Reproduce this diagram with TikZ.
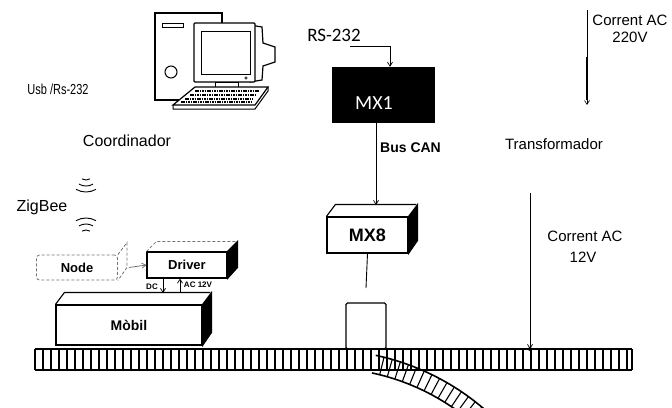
\documentclass[tikz,border=0pt]{standalone}
\usepackage{fontspec}
\setmainfont{Liberation Sans}
\newfontfamily\carlito{Carlito}
\usetikzlibrary{arrows.meta,shapes.misc}

\begin{document}
\begin{tikzpicture}[x=1pt,y=-1pt,
  box/.style={draw,line width=1.1pt,fill=white,inner sep=0pt,font=\bfseries\fontsize{13}{15}\selectfont},
  lbl/.style={inner sep=0pt,font=\fontsize{15}{18}\selectfont},
  wire/.style={line width=0.7pt,-{Straight Barb[length=4pt,width=5pt]}},
  rail/.style={line width=1.6pt},
  tie/.style={line width=1.1pt}]
\useasboundingbox (0,0) rectangle (672,407);

% computer
\draw[line width=1.2pt,fill=white] (155,13) rectangle (222,100);
\draw[line width=1pt] (162,23) rectangle (183,27);
\draw[line width=1pt] (171,72) circle (6);
\draw[line width=1.2pt,fill=white] (250,25) -- (262,27) -- (263,43) -- (275,47) -- (275,62)
  -- (263,66) -- (262,80) -- (250,82) -- cycle;
\draw[line width=1.4pt,fill=white,rounded corners=1pt] (194,23) rectangle (255,82);
\draw[line width=0.8pt] (201,31) rectangle (250,74);
\draw[line width=0.6pt] (246,78) circle (1.2);
\draw[line width=1pt,fill=white] (215,82) rectangle (238,87);
\draw[line width=1.2pt,fill=white] (195,87) -- (268,87) -- (255,105) -- (173,105) -- cycle;
\draw[line width=1pt] (173,105) -- (173,109) -- (255,109) -- (268,91) -- (268,87);
\foreach \y/\a/\b in {91/195/259,95/190/256,99/185/253,102/181/251}
  \draw[line width=2.4pt,dash pattern=on 1.6pt off 0.8pt] (\a,\y) -- (\b,\y);

\node[lbl,font=\fontsize{14.5}{17}\selectfont] (usb) at (58,89) {\scalebox{0.76}[1]{Usb /Rs-232}};
\node[lbl,font=\fontsize{16}{19}\selectfont] (coord) at (127,141) {Coordinador};
\node[lbl,font=\fontsize{16}{19}\selectfont] (zb) at (42,207) {ZigBee};

% radio waves
\foreach \r in {8,14,20}
  \draw[line width=0.9pt] (86,172) ++(60:\r) arc[start angle=60,end angle=120,radius=\r];
\foreach \r in {8,14,20}
  \draw[line width=0.9pt] (86,238) ++(240:\r) arc[start angle=240,end angle=300,radius=\r];

% node, driver, mobil
\node[box,draw=black!55,densely dashed,line width=0.8pt,rounded corners=3pt,
  minimum width=81,minimum height=25] (nd) at (77,267.5) {Node};
\draw[black!55,densely dashed,line width=0.8pt] (nd.north east) -- ++(9,-12) -- ++(0,25) -- (nd.south east);

\node[box,minimum width=80,minimum height=26] (drv) at (187,265) {Driver};
\draw[black!55,densely dashed,line width=0.8pt] (drv.north west) -- ++(10,-10) -- ++(80,0);
\filldraw[line width=1.1pt] (drv.north east) -- ++(10,-10) -- ++(0,26) -- (drv.south east) -- cycle;

\node[box,font=\bfseries\fontsize{14}{16}\selectfont,minimum width=146,minimum height=40] (mob) at (129,325) {Mòbil};
\draw[line width=1.1pt] (mob.north west) -- ++(9,-12) -- ++(146,0);
\filldraw[line width=1.1pt] (mob.north east) -- ++(9,-12) -- ++(0,40) -- (mob.south east) -- cycle;

\draw[wire,black!60] ([xshift=11pt]nd.east) -- (drv.west);
\coordinate (dcin) at (163,293);
\coordinate (acout) at (180,293);
\draw[wire] (drv.south -| dcin) -- (dcin);
\draw[wire] (acout) -- (drv.south -| acout);
\node[inner sep=0pt,font=\bfseries\fontsize{8}{9}\selectfont] (dc) at (152,287) {DC};
\node[inner sep=0pt,font=\bfseries\fontsize{8}{9}\selectfont] (ac) at (198,285) {AC 12V};

% track
\draw[rail] (35,349) -- (632,349) (35,370) -- (632,370);
\foreach \x in {35,43,...,627} \draw[tie] (\x,349) -- (\x,370);
\draw[tie] (632,349) -- (632,370);
\begin{scope}
  \clip (0,340) rectangle (672,407);
  \draw[rail] (325,594) ++(282:244) arc[start angle=282,end angle=316,radius=244];
  \draw[rail] (325,594) ++(282:226) arc[start angle=282,end angle=316,radius=226];
  \foreach \a in {284,286,...,314} \draw[tie] (325,594) ++(\a:226) -- ++(\a:18);
\end{scope}

% MX1 and bus
\node[lbl,font=\carlito\fontsize{19}{22}\selectfont] (rs) at (334,35) {RS-232};
\node[draw,fill=black,chamfered rectangle,chamfered rectangle corners=north west,
  chamfered rectangle sep=14pt,minimum width=102,minimum height=55,inner sep=0pt] (mx1) at (383,94.5) {};
\node[lbl,text=white,font=\carlito\fontsize{20}{24}\selectfont] (mx1t) at (374,103) {MX1};
\coordinate (rsend) at (350,46);
\draw[wire] (rsend) -| ([xshift=7pt]mx1.north);

\node[box,font=\bfseries\fontsize{18}{20}\selectfont,minimum width=81,minimum height=36] (mx8) at (367.5,235) {MX8};
\draw[line width=1.1pt] (mx8.north west) -- ++(9,-12) -- ++(81,0);
\filldraw[line width=1.1pt] (mx8.north east) -- ++(9,-12) -- ++(0,36) -- (mx8.south east) -- cycle;

\coordinate (can) at (376,205);
\draw[wire] (mx1.south -| can) -- (can);
\node[lbl,anchor=west,font=\bfseries\fontsize{14}{17}\selectfont] (bus) at (380,148) {Bus CAN};

\node[draw,line width=1.2pt,rounded corners=1.5pt,minimum width=40,minimum height=46,inner sep=0pt] (shoe) at (366,326) {};
\coordinate (cut) at (366,288);
\draw[line width=0.9pt] (mx8.south) -- (cut);

% supply
\node[lbl] (ac1) at (630,20) {Corrent AC};
\node[lbl] (v220) at (630,37) {220V};
\coordinate (mains) at (587,10);
\coordinate (trin) at (587,105);
\draw[wire,line width=0.6pt] (mains) -- (trin);
\draw[line width=1.6pt] (587,57) -- (587,100);
\node[lbl] (tr) at (554,144) {Transformador};
\coordinate (trout) at (530,193);
\coordinate (tap) at (530,349);
\draw[wire] (trout) -- (tap);
\fill (tap) circle (2);
\node[lbl] (ac2) at (585,236) {Corrent AC};
\node[lbl] (v12) at (583,257) {12V};
\end{tikzpicture}
\end{document}
